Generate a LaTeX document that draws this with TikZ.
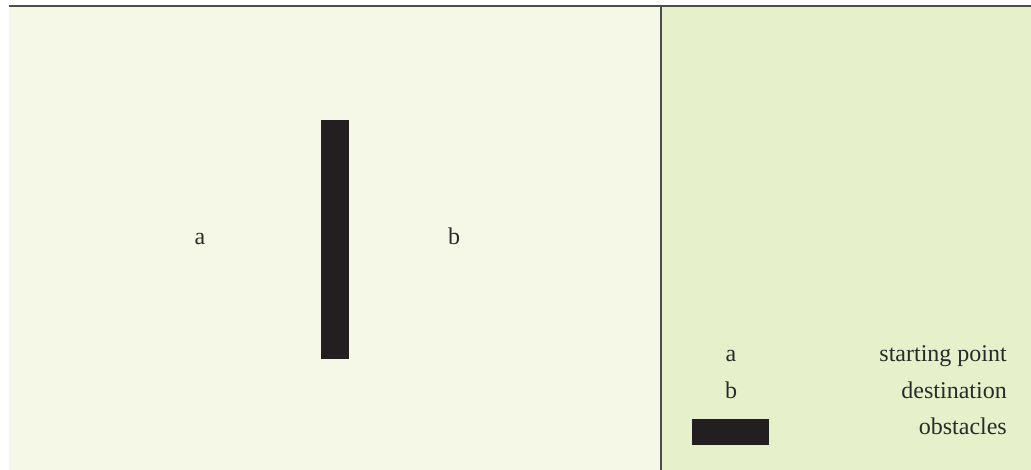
\documentclass[tikz,border=0pt]{standalone}
\usepackage{fontspec}
\setmainfont{Liberation Serif}
\definecolor{leftbg}{HTML}{F5F8E6}
\definecolor{rightbg}{HTML}{E6F0CB}
\definecolor{frame}{HTML}{4D4D4D}
\definecolor{obst}{HTML}{231F20}
\definecolor{txt}{HTML}{2A2A2A}
\begin{document}
\begin{tikzpicture}[x=1pt,y=-1pt,
  lbl/.style={font=\fontsize{24}{27}\selectfont, text=txt, inner sep=0pt},
  obstacle/.style={fill=obst, draw=none}]
\useasboundingbox (0,0) rectangle (1031,470);
\fill[white] (0,0) rectangle (1031,470);
\fill[leftbg] (9,7) rectangle (661,470);
\fill[rightbg] (661,7) rectangle (1031,470);
\coordinate (tl) at (9,6.5);
\coordinate (tr) at (1031,6.5);
\coordinate (dt) at (661,6.5);
\coordinate (db) at (661,470);
\draw[frame, line width=2pt] (tl) -- (tr);
\draw[frame, line width=2pt] (dt) -- (db);
% obstacle
\node[obstacle, minimum width=28pt, minimum height=239pt, anchor=north west, inner sep=0pt] (obs) at (321,120) {};
% points
\node[lbl, anchor=base] (a) at (200,245) {a};
\node[lbl, anchor=base] (b) at (454,245) {b};
% legend
\node[lbl, anchor=base] (la) at (731,361) {a};
\node[lbl, anchor=base east] (lat) at (1007,361) {starting point};
\node[lbl, anchor=base] (lb) at (731,398) {b};
\node[lbl, anchor=base east] (lbt) at (1007,398) {destination};
\node[obstacle, minimum width=77pt, minimum height=26pt, anchor=north west, inner sep=0pt] (lo) at (692,419) {};
\node[lbl, anchor=base east] (lot) at (1007,434) {obstacles};
\end{tikzpicture}
\end{document}
